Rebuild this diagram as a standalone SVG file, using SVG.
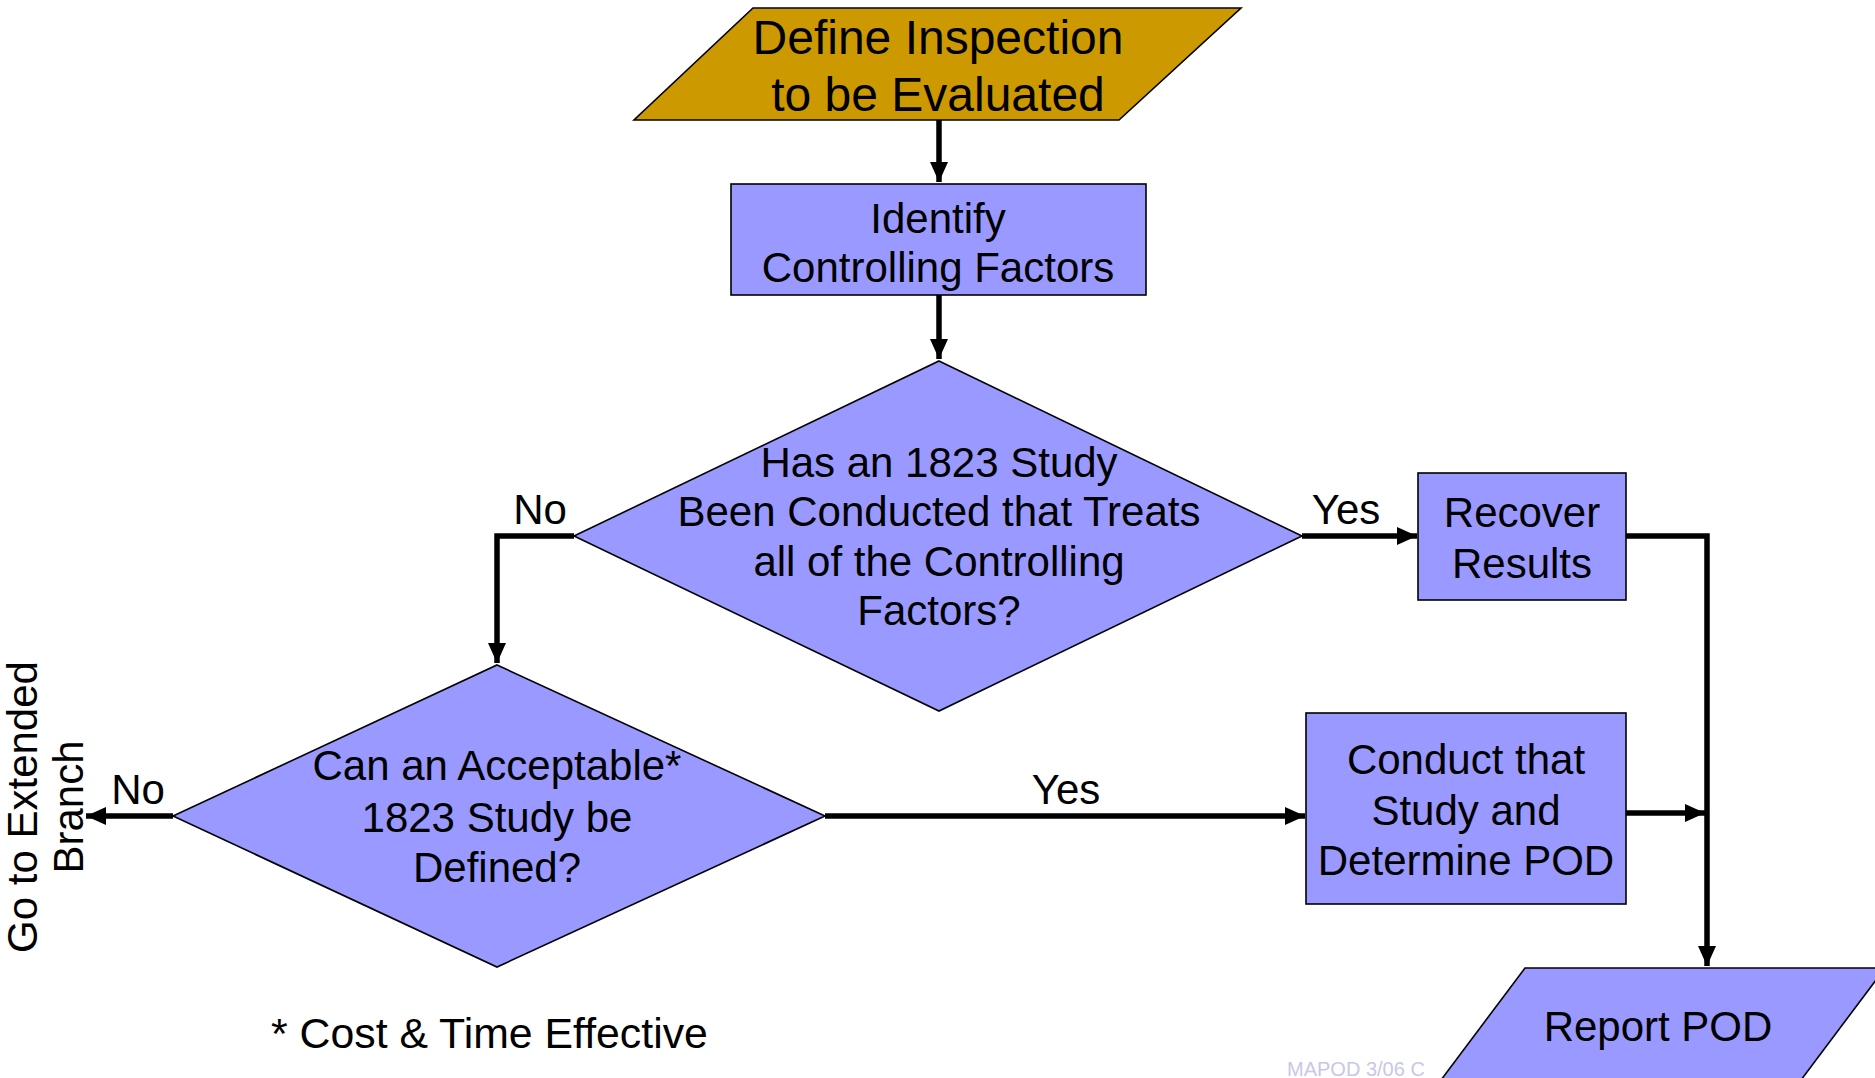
<svg xmlns="http://www.w3.org/2000/svg" width="1875" height="1078" viewBox="0 0 1875 1078">
<defs>
<marker id="arr" markerUnits="userSpaceOnUse" markerWidth="20" markerHeight="18" viewBox="0 0 20 18" refX="20" refY="9" orient="auto">
<path d="M0,0 L20,9 L0,18 Z" fill="#000"/>
</marker>
<style>
.shape{fill:#9999FF;stroke:#000;stroke-width:1.6}
.gold{fill:#CC9900;stroke:#000;stroke-width:1.6}
.t{font-family:"Liberation Sans",Arial,sans-serif;font-size:42px;fill:#000;text-anchor:middle}
.conn{fill:none;stroke:#000;stroke-width:5.5}
</style>
</defs>
<rect width="1875" height="1078" fill="#fff"/>
<text x="1287" y="1076" style="font-family:'Liberation Sans',Arial,sans-serif;font-size:20px;fill:#C8C8E6">MAPOD 3/06 C</text>
<g id="connectors">
<path class="conn" d="M939,120 V182" marker-end="url(#arr)"/>
<path class="conn" d="M939,295 V359" marker-end="url(#arr)"/>
<path class="conn" d="M574,536 H497 V663" marker-end="url(#arr)"/>
<path class="conn" d="M1302,536 H1417" marker-end="url(#arr)"/>
<path class="conn" d="M1626,536 H1707 V966" marker-end="url(#arr)"/>
<path class="conn" d="M825,816 H1305" marker-end="url(#arr)"/>
<path class="conn" d="M173,816 H86" marker-end="url(#arr)"/>
<path class="conn" d="M1626,813 H1705" marker-end="url(#arr)"/>
<text class="t" x="540" y="524">No</text>
<text class="t" x="1346" y="524">Yes</text>
<text class="t" x="1066" y="804">Yes</text>
<text class="t" x="138" y="804">No</text>
</g>
<g id="define">
<polygon class="gold" points="753,8 1241,8 1119,120 634,120"/>
<text class="t" x="938" y="54" style="font-size:48px">Define Inspection</text>
<text class="t" x="938" y="111" style="font-size:48px">to be Evaluated</text>
</g>
<g id="identify">
<rect class="shape" x="731" y="184" width="415" height="111"/>
<text class="t" x="938" y="233">Identify</text>
<text class="t" x="938" y="282">Controlling Factors</text>
</g>
<g id="decision1">
<polygon class="shape" points="939,361 1302,536 939,711 574,536"/>
<text class="t" x="939" y="477">Has an 1823 Study</text>
<text class="t" x="939" y="526">Been Conducted that Treats</text>
<text class="t" x="939" y="576">all of the Controlling</text>
<text class="t" x="939" y="625">Factors?</text>
</g>
<g id="recover">
<rect class="shape" x="1418" y="473" width="208" height="127"/>
<text class="t" x="1522" y="527">Recover</text>
<text class="t" x="1522" y="578">Results</text>
</g>
<g id="decision2">
<polygon class="shape" points="497,665 825,816 497,967 173,816"/>
<text class="t" x="497" y="780">Can an Acceptable*</text>
<text class="t" x="497" y="832">1823 Study be</text>
<text class="t" x="497" y="882">Defined?</text>
</g>
<g id="conduct">
<rect class="shape" x="1306" y="713" width="320" height="191"/>
<text class="t" x="1466" y="774">Conduct that</text>
<text class="t" x="1466" y="825">Study and</text>
<text class="t" x="1466" y="875">Determine POD</text>
</g>
<g id="extended">
<text class="t" transform="translate(37,807) rotate(-90)">Go to Extended</text>
<text class="t" transform="translate(83,807) rotate(-90)">Branch</text>
</g>
<g id="report">
<polygon class="shape" points="1525,968 1885,968 1795,1088 1435,1088"/>
<text class="t" x="1658" y="1041">Report POD</text>
</g>
<g id="footnote">
<text x="271" y="1048" style="font-family:'Liberation Sans',Arial,sans-serif;font-size:42.8px;fill:#000">* Cost &amp; Time Effective</text>
</g>
</svg>
